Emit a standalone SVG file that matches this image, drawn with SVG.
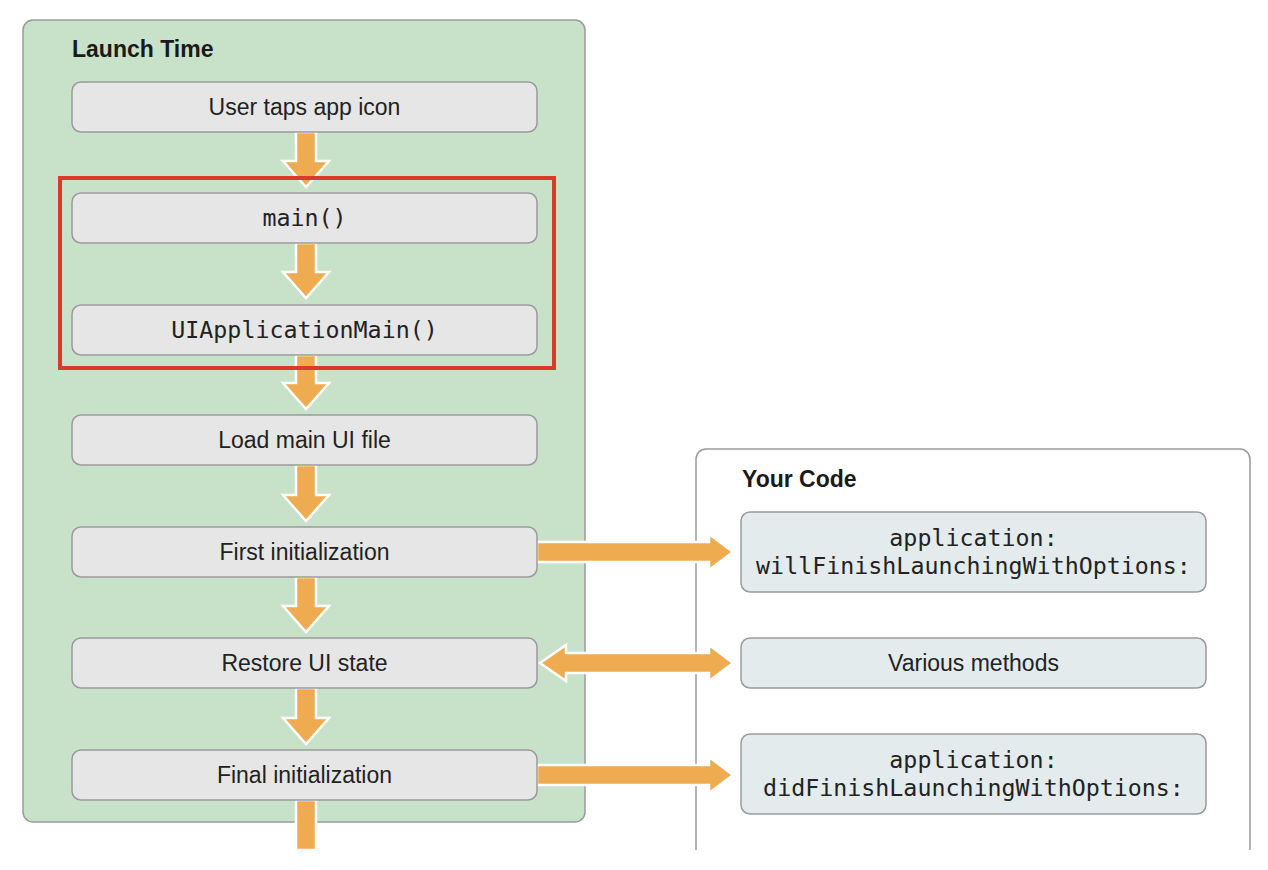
<svg xmlns="http://www.w3.org/2000/svg" width="1268" height="870" viewBox="0 0 1268 870">
<defs>
<style>
.panel{fill:#c8e1c9;stroke:#9a9a9a;stroke-width:1.5}
.code-panel{fill:#ffffff;stroke:#9a9a9a;stroke-width:1.5}
.box{fill:#e5e6e5;stroke:#9a9a9a;stroke-width:1.5}
.cbox{fill:#e3ebed;stroke:#9a9a9a;stroke-width:1.5}
.arrow{fill:#eeab50;stroke:#ffffff;stroke-width:2.5;stroke-linejoin:miter}
.title{font-family:"Liberation Sans",Arial,sans-serif;font-weight:bold;font-size:23px;fill:#1a1a1a}
.lbl{font-family:"Liberation Sans",Arial,sans-serif;font-size:23px;fill:#222;text-anchor:middle}
.mono{font-family:"DejaVu Sans Mono","Liberation Mono",monospace;font-size:23.3px;fill:#222;text-anchor:middle}
.hl{fill:none;stroke:#d93a2b;stroke-width:4}
</style>
</defs>
<rect width="1268" height="870" fill="#ffffff"/>
<g id="launch-time">
<rect class="panel" x="23" y="20" width="562" height="802" rx="10"/>
<text class="title" x="72" y="57">Launch Time</text>
</g>
<g id="your-code">
<path class="code-panel" d="M696,850 V459 A10,10 0 0 1 706,449 H1240 A10,10 0 0 1 1250,459 V850"/>
<text class="title" x="742" y="487">Your Code</text>
</g>
<g id="connectors">
<polygon class="arrow" points="296,132 316,132 316,161 329,161 306,187 283,161 296,161"/>
<polygon class="arrow" points="296,243 316,243 316,272 329,272 306,298 283,272 296,272"/>
<polygon class="arrow" points="296,355 316,355 316,383 329,383 306,409 283,383 296,383"/>
<polygon class="arrow" points="296,465 316,465 316,495 329,495 306,521 283,495 296,495"/>
<polygon class="arrow" points="296,577 316,577 316,606 329,606 306,632 283,606 296,606"/>
<polygon class="arrow" points="296,688 316,688 316,718 329,718 306,744 283,718 296,718"/>
<polygon class="arrow" points="296,800 316,800 316,850 296,850"/>
<polygon class="arrow" points="537,542 709,542 709,534 733,552 709,570 709,562 537,562"/>
<polygon class="arrow" points="540,663 566,645 566,653 709,653 709,645 733,663 709,681 709,673 566,673 566,681"/>
<polygon class="arrow" points="537,765 709,765 709,757 733,775 709,793 709,785 537,785"/>
</g>
<g id="user-taps">
<rect class="box" x="72" y="82" width="465" height="50" rx="9"/>
<text class="lbl" x="304.5" y="115">User taps app icon</text>
</g>
<g id="main">
<rect class="box" x="72" y="193" width="465" height="50" rx="9"/>
<text class="mono" x="304.5" y="226">main()</text>
</g>
<g id="uiapplicationmain">
<rect class="box" x="72" y="305" width="465" height="50" rx="9"/>
<text class="mono" x="304.5" y="338">UIApplicationMain()</text>
</g>
<g id="load-ui">
<rect class="box" x="72" y="415" width="465" height="50" rx="9"/>
<text class="lbl" x="304.5" y="448">Load main UI file</text>
</g>
<g id="first-init">
<rect class="box" x="72" y="527" width="465" height="50" rx="9"/>
<text class="lbl" x="304.5" y="560">First initialization</text>
</g>
<g id="restore-ui">
<rect class="box" x="72" y="638" width="465" height="50" rx="9"/>
<text class="lbl" x="304.5" y="671">Restore UI state</text>
</g>
<g id="final-init">
<rect class="box" x="72" y="750" width="465" height="50" rx="9"/>
<text class="lbl" x="304.5" y="783">Final initialization</text>
</g>
<g id="will-finish">
<rect class="cbox" x="741" y="512" width="465" height="80" rx="9"/>
<text class="mono" x="973.5" y="546">application:</text>
<text class="mono" x="973.5" y="574">willFinishLaunchingWithOptions:</text>
</g>
<g id="various">
<rect class="cbox" x="741" y="638" width="465" height="50" rx="9"/>
<text class="lbl" x="973.5" y="671">Various methods</text>
</g>
<g id="did-finish">
<rect class="cbox" x="741" y="734" width="465" height="80" rx="9"/>
<text class="mono" x="973.5" y="768">application:</text>
<text class="mono" x="973.5" y="796">didFinishLaunchingWithOptions:</text>
</g>
<g id="highlight">
<rect class="hl" x="60" y="178" width="494" height="190"/>
</g>
</svg>
